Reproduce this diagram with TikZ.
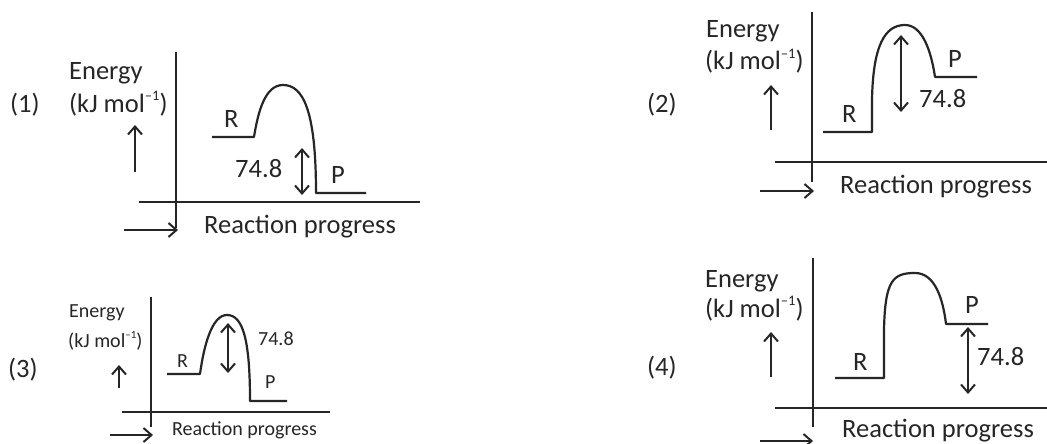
\documentclass[tikz,border=0pt]{standalone}
\usepackage{fontspec}
\setmainfont{Carlito}
\usetikzlibrary{arrows.meta}

\newcommand{\molinv}{\raisebox{0.42em}{\scalebox{0.55}{–1}}}

\begin{document}
\begin{tikzpicture}[
    x=1pt, y=-1pt,
    >={Straight Barb[length=8pt, width=14pt]},
    axis/.style={draw=black!85, line width=2pt},
    level/.style={draw=black!85, line width=2.2pt, line join=round},
    gap/.style={draw=black!85, line width=2pt, <->},
    lbl/.style={anchor=base west, inner sep=0pt, text=black!85, font=\fontsize{26.5}{30}\selectfont},
    small/.style={anchor=base west, inner sep=0pt, text=black!85, font=\fontsize{20}{24}\selectfont}
]
    \path[use as bounding box, fill=white] (0,0) rectangle (1047,444);

    % (1)
    \coordinate (v1t) at (176,52);  \coordinate (v1b) at (176,228);
    \coordinate (h1l) at (139,202); \coordinate (h1r) at (420,202);
    \coordinate (e1a) at (135,172); \coordinate (e1b) at (135,125);
    \coordinate (x1a) at (124,230); \coordinate (x1b) at (178,230);
    \coordinate (r1s) at (212,137); \coordinate (r1e) at (254,137);
    \coordinate (t1)  at (283,85);
    \coordinate (p1s) at (316,193); \coordinate (p1e) at (366,193);
    \coordinate (d1a) at (302,148); \coordinate (d1b) at (302,195);

    \node[lbl] (n1)  at (10,113)  {(1)};
    \node[lbl] (en1) at (69,79)   {Energy};
    \node[lbl] (un1) at (69,112)  {(kJ mol\molinv)};
    \node[lbl] (rl1) at (224,127) {R};
    \node[lbl] (pl1) at (331,183) {P};
    \node[lbl] (dv1) at (235,177) {74.8};
    \node[lbl] (rp1) at (204,233) {Reaction progress};

    \draw[axis] (v1t) -- (v1b);
    \draw[axis] (h1l) -- (h1r);
    \draw[axis, ->] (e1a) -- (e1b);
    \draw[axis, ->] (x1a) -- (x1b);
    \draw[level] (r1s) -- (r1e) .. controls +(4,-25) and +(-18,0) .. (t1)
        .. controls +(20,0) and +(0,-83) .. (p1s) -- (p1e);
    \draw[gap] (d1a) -- (d1b);

    % (2)
    \coordinate (v2t) at (812,12);  \coordinate (v2b) at (812,182);
    \coordinate (h2l) at (775,162); \coordinate (h2r) at (1047,162);
    \coordinate (e2a) at (771,130); \coordinate (e2b) at (771,85);
    \coordinate (x2a) at (760,191); \coordinate (x2b) at (814,191);
    \coordinate (r2s) at (823,132); \coordinate (r2e) at (872,132);
    \coordinate (r2u) at (872,100);
    \coordinate (t2)  at (905,25);
    \coordinate (p2s) at (935,77);  \coordinate (p2e) at (977,77);
    \coordinate (d2a) at (901,35);  \coordinate (d2b) at (901,112);

    \node[lbl] (n2)  at (647,113) {(2)};
    \node[lbl] (en2) at (706,38)  {Energy};
    \node[lbl] (un2) at (705,70)  {(kJ mol\molinv)};
    \node[lbl] (rl2) at (842,122) {R};
    \node[lbl] (pl2) at (948,68)  {P};
    \node[lbl] (dv2) at (919,107) {74.8};
    \node[lbl] (rp2) at (840,193) {Reaction progress};

    \draw[axis] (v2t) -- (v2b);
    \draw[axis] (h2l) -- (h2r);
    \draw[axis, ->] (e2a) -- (e2b);
    \draw[axis, ->] (x2a) -- (x2b);
    \draw[level] (r2s) -- (r2e) -- (r2u) .. controls +(1,-55) and +(-20,0) .. (t2)
        .. controls +(17,0) and +(-4,-27) .. (p2s) -- (p2e);
    \draw[gap] (d2a) -- (d2b);

    % (3)
    \coordinate (v3t) at (151,297); \coordinate (v3b) at (151,427);
    \coordinate (h3l) at (122,412); \coordinate (h3r) at (330,412);
    \coordinate (e3a) at (119,388); \coordinate (e3b) at (119,365);
    \coordinate (x3a) at (110,435); \coordinate (x3b) at (153,435);
    \coordinate (r3s) at (167,374); \coordinate (r3e) at (200,374);
    \coordinate (t3)  at (227,315);
    \coordinate (p3s) at (250,401); \coordinate (p3e) at (287,401);
    \coordinate (d3a) at (228,323); \coordinate (d3b) at (228,373);

    \node[lbl]   (n3)  at (8,377)   {(3)};
    \node[small] (en3) at (69,317)  {Energy};
    \node[small] (un3) at (68,347)  {(kJ mol\molinv)};
    \node[small] (rl3) at (177,367) {R};
    \node[small] (pl3) at (265,388) {P};
    \node[small] (dv3) at (258,345) {74.8};
    \node[small] (rp3) at (172,435) {Reaction progress};

    \draw[axis] (v3t) -- (v3b);
    \draw[axis] (h3l) -- (h3r);
    \draw[axis, ->] (e3a) -- (e3b);
    \draw[axis, ->] (x3a) -- (x3b);
    \draw[level] (r3s) -- (r3e) .. controls +(4,-29) and +(-15,0) .. (t3)
        .. controls +(16,0) and +(0,-61) .. (p3s) -- (p3e);
    \draw[gap] (d3a) -- (d3b);

    % (4)
    \coordinate (v4t) at (813,258); \coordinate (v4b) at (813,427);
    \coordinate (h4l) at (775,408); \coordinate (h4r) at (1047,408);
    \coordinate (e4a) at (771,377); \coordinate (e4b) at (771,332);
    \coordinate (x4a) at (760,441); \coordinate (x4b) at (813,441);
    \coordinate (r4s) at (835,378); \coordinate (r4e) at (884,378);
    \coordinate (r4u) at (884,330);
    \coordinate (t4)  at (915,273);
    \coordinate (p4s) at (946,324); \coordinate (p4e) at (988,324);
    \coordinate (d4a) at (968,327); \coordinate (d4b) at (968,394);

    \node[lbl] (n4)  at (647,375) {(4)};
    \node[lbl] (en4) at (705,287) {Energy};
    \node[lbl] (un4) at (705,317) {(kJ mol\molinv)};
    \node[lbl] (rl4) at (853,370) {R};
    \node[lbl] (pl4) at (965,313) {P};
    \node[lbl] (dv4) at (977,365) {74.8};
    \node[lbl] (rp4) at (842,437) {Reaction progress};

    \draw[axis] (v4t) -- (v4b);
    \draw[axis] (h4l) -- (h4r);
    \draw[axis, ->] (e4a) -- (e4b);
    \draw[axis, ->] (x4a) -- (x4b);
    \draw[level] (r4s) -- (r4e) -- (r4u) .. controls +(1,-50) and +(-22,0) .. (t4)
        .. controls +(20,0) and +(-3,-25) .. (p4s) -- (p4e);
    \draw[gap] (d4a) -- (d4b);
\end{tikzpicture}
\end{document}
